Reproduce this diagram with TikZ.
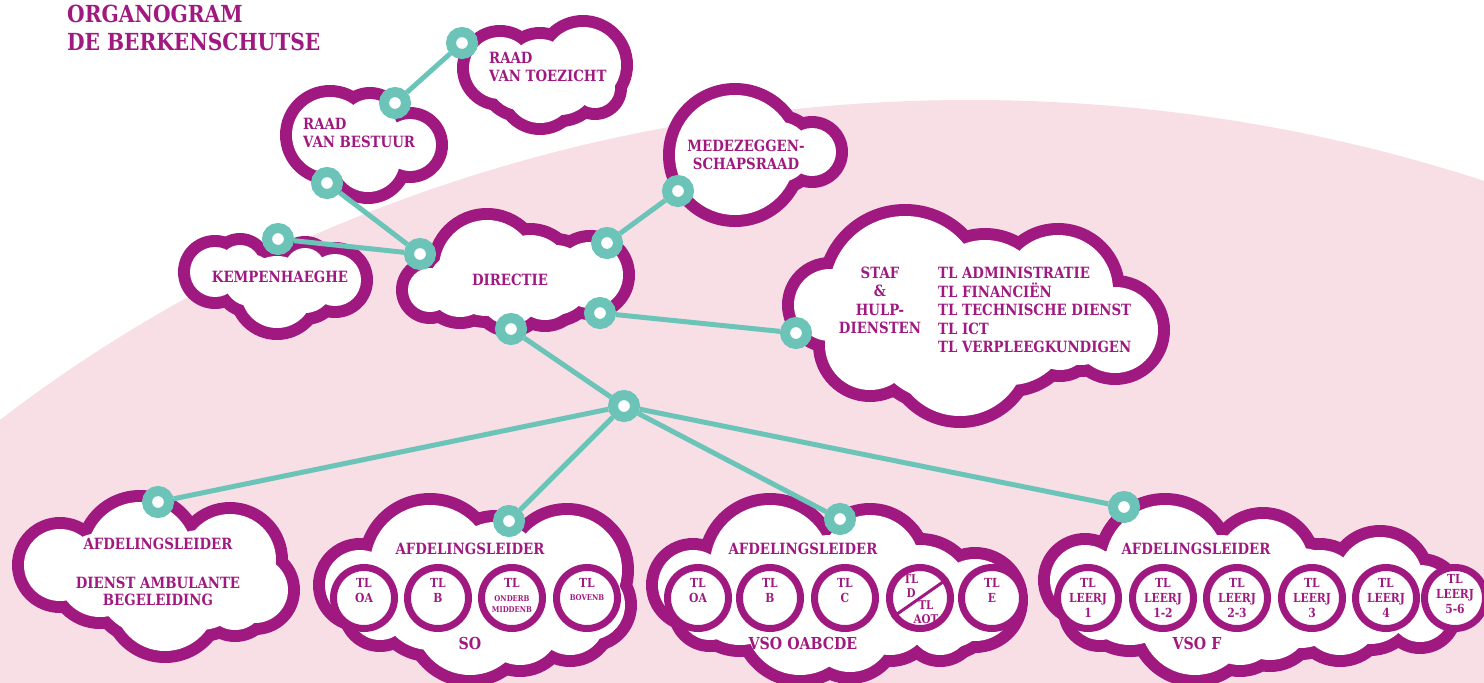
\documentclass[tikz,border=0pt]{standalone}
\usepackage{fontspec}
\setmainfont{DejaVu Serif}[FakeStretch=0.86]
\definecolor{purp}{RGB}{160,25,128}
\definecolor{tealc}{RGB}{108,196,184}
\definecolor{pinkbg}{RGB}{247,223,229}
\newcommand\mycloud[1]{%
  \foreach \cx/\cy/\cr in {#1} {\fill[purp] (\cx,\cy) circle[radius=\cr+12];}
  \foreach \cx/\cy/\cr in {#1} {\fill[white] (\cx,\cy) circle[radius=\cr];}
}
\tikzset{
  ring/.style={circle, draw=tealc, line width=10pt, fill=white, minimum size=22pt, inner sep=0pt},
  conn/.style={draw=tealc, line width=5pt},
  lbl/.style={text=purp, font=\bfseries\fontsize{15.5}{18.5}\selectfont, inner sep=0pt, align=center},
  lbll/.style={lbl, align=left},
  ttl/.style={text=purp, font=\bfseries\fontsize{23.5}{28}\selectfont, inner sep=0pt, align=left},
  big/.style={lbl, font=\bfseries\fontsize{16.5}{18}\selectfont},
  tlc/.style={circle, draw=purp, line width=7pt, fill=white, minimum size=61pt, inner sep=0pt},
  tlt/.style={text=purp, font=\bfseries\fontsize{12.5}{15}\selectfont, inner sep=0pt, align=center},
  tls/.style={text=purp, font=\bfseries\fontsize{8}{11}\selectfont, inner sep=0pt, align=center}
}
\begin{document}
\begin{tikzpicture}[x=1pt,y=-1pt]
\useasboundingbox (0,0) rectangle (1484,683);
\begin{scope}
\clip (0,0) rectangle (1484,683);
\fill[pinkbg] (970,1395) ellipse [x radius=1474, y radius=1295];
\end{scope}

% clouds
\mycloud{583/65/38, 500/68/31, 540/70/31, 540/90/33, 595/88/20, 560/80/35, 520/80/30}
\mycloud{330/135/38, 410/145/26, 368/160/32, 370/125/26, 370/145/35}
\mycloud{735/155/60, 812/152/24, 780/152/30}
\mycloud{215/272/25, 240/265/20, 277/292/36, 335/280/26, 305/268/20, 250/280/26, 305/285/28}
\mycloud{487/268/48, 590/275/33, 510/295/30, 430/290/22, 545/290/30, 460/285/32, 555/280/35, 530/275/40}
\mycloud{830/305/36, 905/292/76, 1058/290/55, 1115/330/43, 960/350/66, 870/345/45, 1060/340/30, 985/300/60, 1010/325/60, 870/320/45, 1080/320/45, 940/330/70}
\mycloud{60/565/36, 140/555/53, 230/560/46, 255/590/33, 165/600/51, 235/600/30, 100/575/42, 200/580/50, 150/580/55}
\mycloud{360/585/35, 430/565/60, 495/568/46, 567/570/55, 590/605/35, 470/620/55, 570/620/35, 380/610/30, 430/600/50, 520/590/50, 560/600/40, 400/592/40, 520/625/40}
\mycloud{693/585/35, 770/565/60, 870/565/50, 975/600/41, 800/620/55, 890/615/40, 710/610/30, 940/625/30, 740/595/50, 830/590/55, 920/595/50, 950/610/38, 850/630/42}
\mycloud{1085/580/35, 1165/565/60, 1263/565/46, 1320/590/40, 1380/580/43, 1420/600/35, 1195/620/55, 1270/620/40, 1340/615/40, 1100/610/30, 1130/595/50, 1220/590/55, 1300/598/50, 1370/602/42, 1420/612/30, 1240/625/40}

% title
\node[ttl, anchor=north west] (title) at (67,5) {ORGANOGRAM\\DE BERKENSCHUTSE};

% labels
\node[lbll, anchor=west] (rvt) at (489,67) {RAAD\\VAN TOEZICHT};
\node[lbll, anchor=west] (rvb) at (303,133) {RAAD\\VAN BESTUUR};
\node[lbl] (mr) at (746,155) {MEDEZEGGEN-\\SCHAPSRAAD};
\node[lbl] (kemp) at (280,277) {KEMPENHAEGHE};
\node[lbl] (dir) at (510,280) {DIRECTIE};
\node[lbl] (staf) at (880,300.5) {STAF\\\&\\HULP-\\DIENSTEN};
\node[lbll, anchor=west] (tls) at (938,310) {TL ADMINISTRATIE\\TL FINANCIËN\\TL TECHNISCHE DIENST\\TL ICT\\TL VERPLEEGKUNDIGEN};

\node[lbl] (af1) at (158,544) {AFDELINGSLEIDER};
\node[lbl, font=\bfseries\fontsize{15.5}{17}\selectfont] (dab) at (158,591.5) {DIENST AMBULANTE\\BEGELEIDING};
\node[lbl] (af2) at (470,549) {AFDELINGSLEIDER};
\node[big] (so) at (470,643) {SO};
\node[lbl] (af3) at (803,549) {AFDELINGSLEIDER};
\node[big] (vso) at (803,643) {VSO OABCDE};
\node[lbl] (af4) at (1196,549) {AFDELINGSLEIDER};
\node[big] (vsof) at (1197,643) {VSO F};

% SO circles
\node[tlc] (so1) at (364,598) {};
\node[tlc] (so2) at (438,598) {};
\node[tlc] (so3) at (512,598) {};
\node[tlc] (so4) at (587,598) {};
\node[tlt] (so1t) at (364,590.5) {TL\\OA};
\node[tlt] (so2t) at (438,590.5) {TL\\B};
\node[tlt] (so3t) at (512,583) {TL};
\node[tls] (so3s) at (512,604) {ONDERB\\MIDDENB};
\node[tlt] (so4t) at (587,583) {TL};
\node[tls] (so4s) at (587,598) {BOVENB};

% VSO OABCDE circles
\node[tlc] (vo1) at (698,598) {};
\node[tlc] (vo2) at (770,598) {};
\node[tlc] (vo3) at (845,598) {};
\node[tlc] (vo4) at (920,598) {};
\node[tlc] (vo5) at (992,598) {};
\draw[purp, line width=3pt] (vo4.215) -- (vo4.35);
\node[tlt] (vo1t) at (698,590.5) {TL\\OA};
\node[tlt] (vo2t) at (770,590.5) {TL\\B};
\node[tlt] (vo3t) at (845,590.5) {TL\\C};
\node[tlt, font=\bfseries\fontsize{12}{14}\selectfont] (vo4a) at (911,586) {TL\\D};
\node[tlt, font=\bfseries\fontsize{12}{14}\selectfont] (vo4b) at (926,612) {TL\\AOT};
\node[tlt] (vo5t) at (992,590.5) {TL\\E};

% VSO F circles
\node[tlc] (vf1) at (1088,598) {};
\node[tlc] (vf2) at (1163,598) {};
\node[tlc] (vf3) at (1237,598) {};
\node[tlc] (vf4) at (1312,598) {};
\node[tlc] (vf5) at (1386,598) {};
\node[tlc] (vf6) at (1455,598) {};
\node[tlt] (vf1t) at (1088,598) {TL\\LEERJ\\1};
\node[tlt] (vf2t) at (1163,598) {TL\\LEERJ\\1-2};
\node[tlt] (vf3t) at (1237,598) {TL\\LEERJ\\2-3};
\node[tlt] (vf4t) at (1312,598) {TL\\LEERJ\\3};
\node[tlt] (vf5t) at (1386,598) {TL\\LEERJ\\4};
\node[tlt] (vf6t) at (1455,594) {TL\\LEERJ\\5-6};

% rings
\node[ring] (r1) at (462,43) {};
\node[ring] (r2) at (395,103) {};
\node[ring] (r3) at (327,183) {};
\node[ring] (r4) at (278,239) {};
\node[ring] (r5) at (420,254) {};
\node[ring] (r6) at (607,243) {};
\node[ring] (r7) at (600,313) {};
\node[ring] (r8) at (511,329) {};
\node[ring] (r9) at (678,191) {};
\node[ring] (r10) at (796,333) {};
\node[ring] (hub) at (624,406) {};
\node[ring] (r12) at (158,502) {};
\node[ring] (r13) at (509,521) {};
\node[ring] (r14) at (840,519) {};
\node[ring] (r15) at (1124,507) {};

% connectors
\draw[conn] (r1) -- (r2);
\draw[conn] (r3) -- (r5);
\draw[conn] (r4) -- (r5);
\draw[conn] (r6) -- (r9);
\draw[conn] (r7) -- (r10);
\draw[conn] (r8) -- (hub);
\draw[conn] (hub) -- (r12);
\draw[conn] (hub) -- (r13);
\draw[conn] (hub) -- (r14);
\draw[conn] (hub) -- (r15);
\end{tikzpicture}
\end{document}
